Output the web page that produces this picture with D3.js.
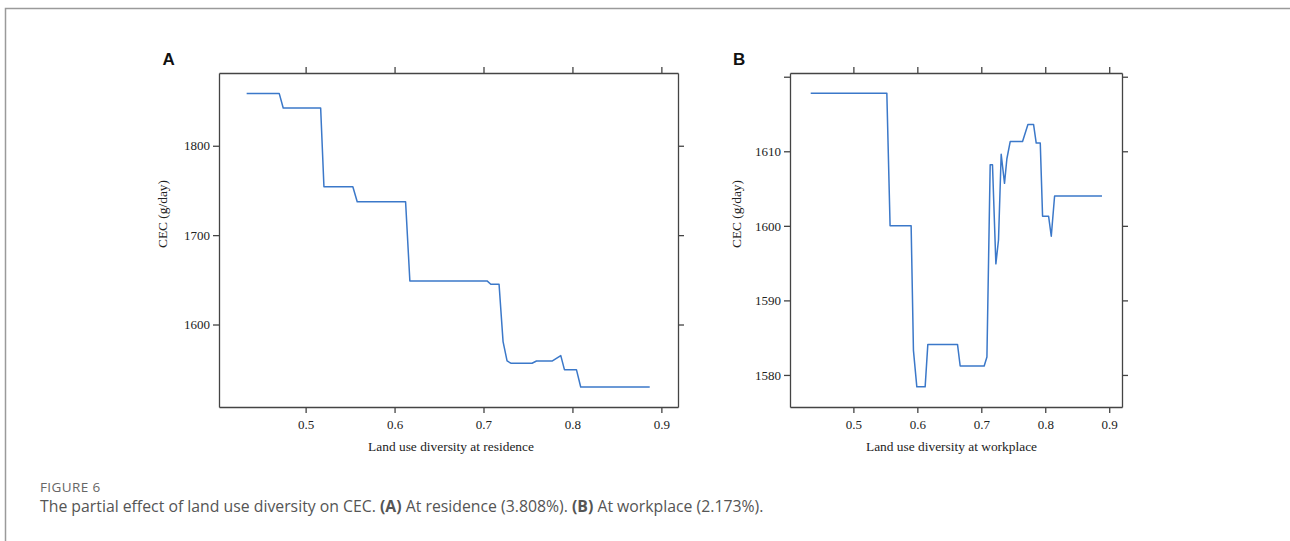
<!DOCTYPE html>
<html>
<head>
  <meta charset="utf-8">
  <title>Figure 6 - partial effect of land use diversity on CEC</title>
  <script src="https://cdn.jsdelivr.net/npm/d3@7"></script>
  <style>
    body { margin: 0; background: #fff; }
    svg { display: block; }
    .tick text { font-family: "Liberation Serif", "Times New Roman", serif; font-size: 13px; fill: #222; }
    .axis path, .axis line { stroke: #444; stroke-width: 1.3; }
  </style>
</head>
<body>
<svg id="svg" width="1290" height="541"></svg>

<script>
  // panel A: land use diversity at residence
  var resX = [0.4337, 0.4703, 0.4748, 0.5169, 0.5206, 0.5531, 0.558, 0.6124, 0.6172, 0.704, 0.7082, 0.7175,
              0.722, 0.7265, 0.7307, 0.7546, 0.7596, 0.7775, 0.7869, 0.791, 0.8045, 0.8093, 0.8869];
  var resCEC = [1858.6, 1858.6, 1842.2, 1842.2, 1754.1, 1754.1, 1737.3, 1737.3, 1648.8, 1648.8, 1645.1, 1645.1,
                1580.9, 1559.2, 1556.7, 1556.7, 1559.2, 1559.2, 1565.2, 1549.5, 1549.5, 1530.1, 1530.1];

  // panel B: land use diversity at workplace
  var workX = [0.4333, 0.5523, 0.5574, 0.5903, 0.5939, 0.5992, 0.6122, 0.6164, 0.6628, 0.667, 0.7045, 0.7088,
               0.7139, 0.7175, 0.7228, 0.7269, 0.7311, 0.7363, 0.74, 0.7452, 0.7645, 0.7729, 0.7817, 0.7859,
               0.7922, 0.7958, 0.8052, 0.8094, 0.8146, 0.8887];
  var workCEC = [1617.8, 1617.8, 1600.0, 1600.0, 1583.3, 1578.4, 1578.4, 1584.1, 1584.1, 1581.2, 1581.2, 1582.4,
                 1608.2, 1608.2, 1594.9, 1598.1, 1609.6, 1605.7, 1609.0, 1611.3, 1611.3, 1613.6, 1613.6, 1611.1,
                 1611.1, 1601.3, 1601.3, 1598.6, 1604.0, 1604.0];

  var xTicks = [0.5, 0.6, 0.7, 0.8, 0.9];
  var resYTicks = [1600, 1700, 1800];
  var workYTicks = [1580, 1590, 1600, 1610, 1620];
  var workYLabels = ['1580', '1590', '1600', '1610', ''];

  var panels = [
    { letter: 'A', xs: resX, ys: resCEC, yTicks: resYTicks, yLabels: resYTicks.map(String),
      xTitle: 'Land use diversity at residence',
      left: 219, right: 678, top: 73, bottom: 407, xDom: [0.4026, 0.9187], yDom: [1507.7, 1881.4],
      letterX: 162.5, xTitleX: 451, yTitleX: 166.5 },
    { letter: 'B', xs: workX, ys: workCEC, yTicks: workYTicks, yLabels: workYLabels,
      xTitle: 'Land use diversity at workplace',
      left: 790, right: 1122, top: 73, bottom: 407, xDom: [0.4009, 0.92], yDom: [1575.7, 1620.5],
      letterX: 733, xTitleX: 951.5, yTitleX: 740.5 }
  ];

  var svg = d3.select('#svg');

  // frame of the figure box
  svg.append('path')
    .attr('d', 'M5.5,541 V8.5 H1290')
    .attr('fill', 'none')
    .attr('stroke', '#9a9a9a')
    .attr('stroke-width', 1.5);

  panels.forEach(function (p) {
    var x = d3.scaleLinear().domain(p.xDom).range([p.left, p.right]);
    var y = d3.scaleLinear().domain(p.yDom).range([p.bottom, p.top]);
    var g = svg.append('g');

    g.append('g').attr('class', 'axis')
      .attr('transform', 'translate(0,' + p.bottom + ')')
      .call(d3.axisBottom(x).tickValues(xTicks).tickSize(6).tickSizeOuter(0).tickPadding(7).tickFormat(d3.format('.1f')));
    g.append('g').attr('class', 'axis')
      .attr('transform', 'translate(0,' + p.top + ')')
      .call(d3.axisTop(x).tickValues(xTicks).tickSize(6).tickSizeOuter(0).tickFormat(''));
    g.append('g').attr('class', 'axis')
      .attr('transform', 'translate(' + p.left + ',0)')
      .call(d3.axisLeft(y).tickValues(p.yTicks).tickSize(6).tickSizeOuter(0).tickPadding(3)
        .tickFormat((d, i) => p.yLabels[i]));
    g.append('g').attr('class', 'axis')
      .attr('transform', 'translate(' + p.right + ',0)')
      .call(d3.axisRight(y).tickValues(p.yTicks).tickSize(6).tickSizeOuter(0).tickFormat(''));

    var pts = p.xs.map((v, i) => [v, p.ys[i]]);
    g.append('path')
      .datum(pts)
      .attr('fill', 'none')
      .attr('stroke', '#3b78c9')
      .attr('stroke-width', 1.5)
      .attr('stroke-linejoin', 'round')
      .attr('d', d3.line().x(d => x(d[0])).y(d => y(d[1])));

    g.append('text')
      .attr('x', p.xTitleX)
      .attr('y', 451)
      .attr('text-anchor', 'middle')
      .style('font-family', '"Liberation Serif", "Times New Roman", serif')
      .style('font-size', '13.4px')
      .attr('fill', '#222')
      .text(p.xTitle);

    g.append('text')
      .attr('transform', 'translate(' + p.yTitleX + ',214) rotate(-90)')
      .attr('text-anchor', 'middle')
      .style('font-family', '"Liberation Serif", "Times New Roman", serif')
      .style('font-size', '13.4px')
      .attr('fill', '#222')
      .text('CEC (g/day)');

    g.append('text')
      .attr('x', p.letterX)
      .attr('y', 65)
      .style('font-family', '"Liberation Sans", Arial, sans-serif')
      .style('font-size', '17px')
      .style('font-weight', 'bold')
      .attr('fill', '#111')
      .text(p.letter);
  });

  // caption
  svg.append('text')
    .attr('x', 40)
    .attr('y', 492)
    .style('font-family', '"Open Sans", Lato, sans-serif')
    .style('font-size', '13.5px')
    .style('letter-spacing', '0.4px')
    .attr('fill', '#666')
    .text('FIGURE 6');

  var cap = svg.append('text')
    .attr('x', 40)
    .attr('y', 512)
    .style('font-family', '"Open Sans", Lato, sans-serif')
    .style('font-size', '15.8px')
    .attr('fill', '#555');
  cap.append('tspan').text('The partial effect of land use diversity on CEC. ');
  cap.append('tspan').style('font-weight', 'bold').text('(A)');
  cap.append('tspan').text(' At residence (3.808%). ');
  cap.append('tspan').style('font-weight', 'bold').text('(B)');
  cap.append('tspan').text(' At workplace (2.173%).');
</script>
</body>
</html>
